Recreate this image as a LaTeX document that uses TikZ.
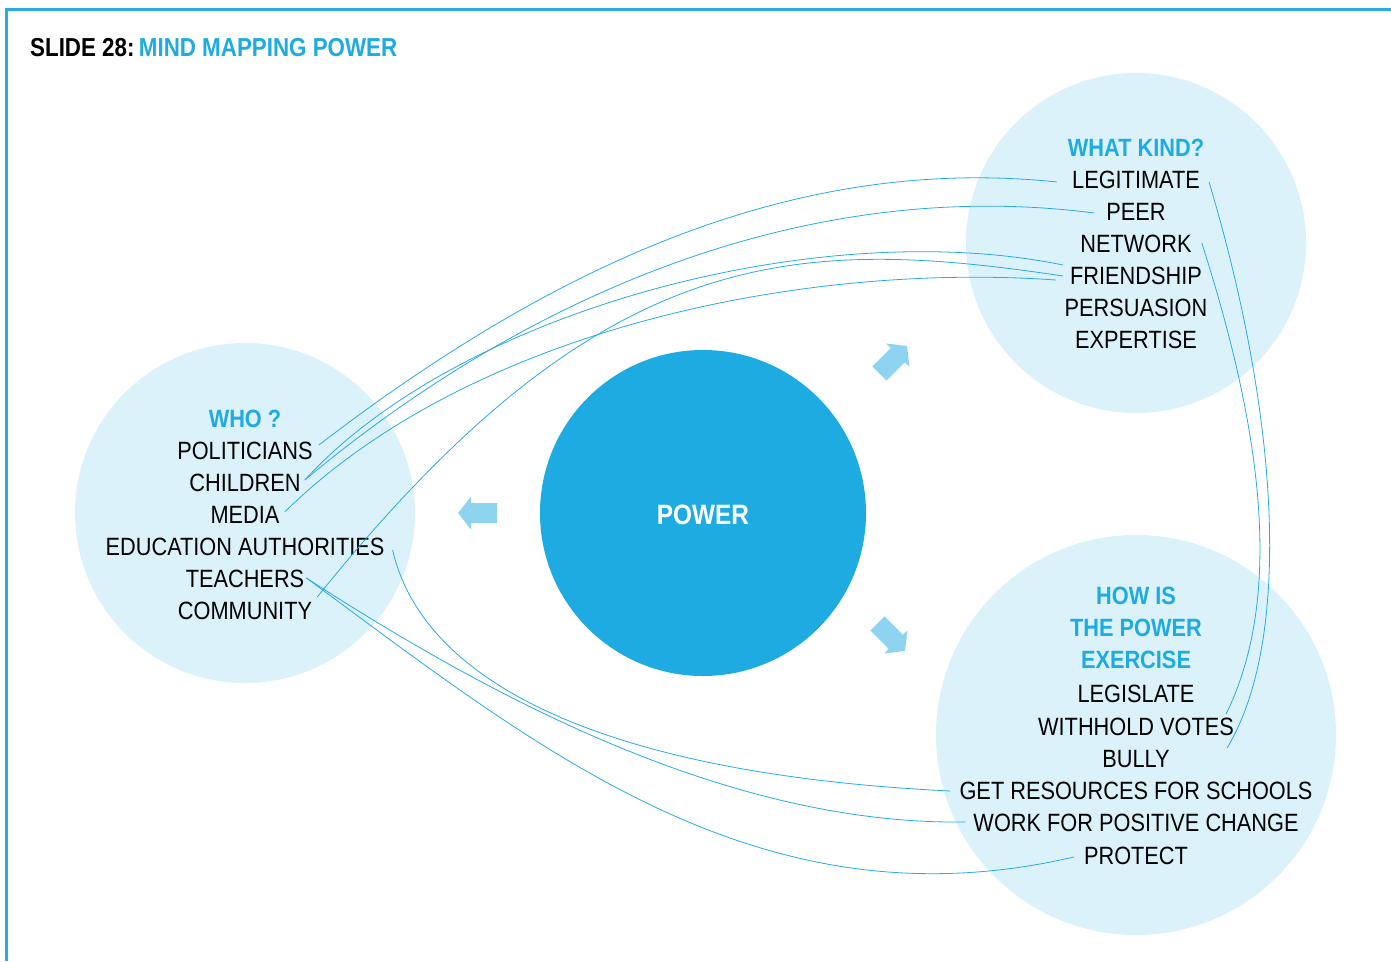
\documentclass[tikz,border=0pt]{standalone}
\usepackage{fontspec}
\setmainfont{Liberation Sans}[FakeStretch=0.87]
\newfontfamily\titlefont{Liberation Sans}[FakeStretch=0.86]
\definecolor{cyanline}{HTML}{29ABE2}
\definecolor{powerblue}{HTML}{1EABE2}
\definecolor{lightcirc}{HTML}{DCF2FB}
\definecolor{arrowblue}{HTML}{8ED4F1}
\begin{document}
\begin{tikzpicture}[x=1pt,y=-1pt,
  lbl/.style={anchor=base, inner sep=0pt, text=black, font=\fontsize{25}{30}\selectfont},
  hd/.style={anchor=base, inner sep=0pt, text=powerblue, font=\fontsize{25}{30}\selectfont\bfseries},
  bubble/.style={circle, fill=lightcirc, inner sep=0pt},
  conn/.style={draw=cyanline, line width=0.8pt},
  blockarrow/.style={fill=arrowblue}]
\useasboundingbox (0,0) rectangle (1391,961);
\fill[white] (0,0) rectangle (1391,961);
\draw[cyanline, line width=3pt] (6.3,961) -- (6.3,9.5) -- (1391,9.5);

% title
\node[anchor=base west, inner sep=0pt, font=\titlefont\fontsize{26}{30}\selectfont\bfseries] (title) at (30,56)
  {SLIDE 28:\,\textcolor{powerblue}{MIND MAPPING POWER}};

% circles
\node[bubble, minimum size=340pt] (whoC) at (245,513) {};
\node[bubble, minimum size=340pt] (kindC) at (1136,243) {};
\node[bubble, minimum size=400pt] (howC) at (1136,735) {};
\node[circle, fill=powerblue, inner sep=0pt, minimum size=326pt] (powC) at (703,513) {};
\node[anchor=base, inner sep=0pt, text=white, font=\fontsize{28}{32}\selectfont\bfseries] (power) at (703,524) {POWER};

% block arrows
\fill[blockarrow] (458,513) -- (471,496.5) -- (471,503) -- (497,503) -- (497,523) -- (471,523) -- (471,529.5) -- cycle;
\fill[blockarrow] (907,346) -- (909.5,366.9) -- (904.9,362.3) -- (886.5,380.7) -- (872.4,366.5) -- (890.7,348.1) -- (886.1,343.5) -- cycle;
\fill[blockarrow] (905,651) -- (907.5,630.1) -- (902.9,634.7) -- (884.5,616.4) -- (870.4,630.5) -- (888.7,648.9) -- (884.1,653.5) -- cycle;

% WHO group
\node[hd]  (who) at (245,427) {WHO ?};
\node[lbl] (pol) at (245,459) {POLITICIANS};
\node[lbl] (chi) at (245,491) {CHILDREN};
\node[lbl] (med) at (245,523) {MEDIA};
\node[lbl] (edu) at (245,555) {EDUCATION AUTHORITIES};
\node[lbl] (tea) at (245,587) {TEACHERS};
\node[lbl] (com) at (245,619) {COMMUNITY};

% WHAT KIND group
\node[hd]  (kind) at (1136,156) {WHAT KIND?};
\node[lbl] (leg)  at (1136,188) {LEGITIMATE};
\node[lbl] (peer) at (1136,220) {PEER};
\node[lbl] (net)  at (1136,252) {NETWORK};
\node[lbl] (fri)  at (1136,284) {FRIENDSHIP};
\node[lbl] (pers) at (1136,316) {PERSUASION};
\node[lbl] (expe) at (1136,348) {EXPERTISE};

% HOW group
\node[hd]  (howa) at (1136,604) {HOW IS};
\node[hd]  (howb) at (1136,636) {THE POWER};
\node[hd]  (howc) at (1136,668) {EXERCISE};
\node[lbl] (legis) at (1136,702) {LEGISLATE};
\node[lbl] (with)  at (1136,735) {WITHHOLD VOTES};
\node[lbl] (bully) at (1136,767) {BULLY};
\node[lbl] (get)   at (1136,799) {GET RESOURCES FOR SCHOOLS};
\node[lbl] (work)  at (1136,831) {WORK FOR POSITIVE CHANGE};
\node[lbl] (prot)  at (1136,864) {PROTECT};

% connectors WHO -> WHAT KIND
\draw[conn] ([shift={(6,-14)}]pol.base east) .. controls (560,260) and (800,155) .. ([shift={(-15,-6)}]leg.base west);
\draw[conn] ([shift={(4,-11)}]chi.base east) .. controls (520,300) and (800,175) .. ([shift={(-12,-7)}]peer.base west);
\draw[conn] ([shift={(4,-11)}]chi.base east) .. controls (460,310) and (820,215) .. ([shift={(-7,-19)}]fri.base west);
\draw[conn] ([shift={(5,-11)}]med.base east) .. controls (470,330) and (800,262) .. ([shift={(-14,-4)}]fri.base west);
\draw[conn] ([shift={(5,-22)}]com.base east) .. controls (600,245) and (790,235) .. ([shift={(-7,-8)}]fri.base west);

% connectors WHO -> HOW
\draw[conn] ([shift={(8,-5)}]edu.base east) .. controls (425,690) and (620,775) .. ([shift={(-9,-8)}]get.base west);
\draw[conn] ([shift={(2,-9)}]tea.base east) .. controls (510,710) and (740,825) .. ([shift={(-8,-9)}]work.base west);
\draw[conn] ([shift={(2,-9)}]tea.base east) .. controls (540,750) and (760,930) .. ([shift={(-10,-7)}]prot.base west);

% connectors WHAT KIND -> HOW
\draw[conn] ([shift={(9,-6)}]leg.base east) .. controls (1280,420) and (1292,640) .. ([shift={(-7,13)}]with.base east);
\draw[conn] ([shift={(10,-9)}]net.base east) .. controls (1265,440) and (1282,600) .. ([shift={(-8,-21)}]with.base east);
\end{tikzpicture}
\end{document}
